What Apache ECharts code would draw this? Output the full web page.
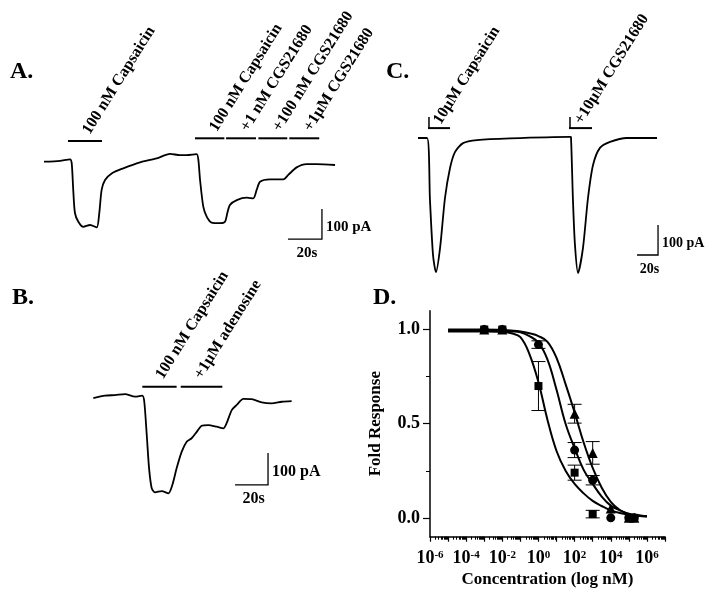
<!DOCTYPE html>
<html><head><meta charset="utf-8">
<script src="https://cdn.jsdelivr.net/npm/echarts@6/dist/echarts.min.js"></script>
<style>html,body{margin:0;padding:0;background:#fff}#c{width:720px;height:592px}</style>
</head><body><div id="c"></div>
<script>
// ---------- Panel A (time s, current pA) ----------
const traceA = [[0,1],[9.4,4],[15.3,9],[16.3,-4],[17.2,-93],[18.2,-170],[20.2,-199],[23.1,-216],[27.1,-210],[31,-218],[32.5,-171],[33.9,-93],[35.9,-60],[39.8,-38],[46.6,-21],[56.5,-1],[66.3,12],[74.1,27],[80,23],[83.9,23],[89.8,26],[90.8,7],[91.8,-60],[93.7,-149],[95.7,-182],[98.6,-202],[103.5,-204],[106.5,-199],[107.8,-171],[109.4,-143],[113.4,-127],[119.2,-119],[123.1,-121],[125.1,-93],[127.1,-66],[132.9,-58],[140.8,-58],[143.7,-43],[148.6,-18],[154.5,-7],[160.4,-7],[171.2,-10]];
const barsA = [[14.1,34.1,70],[88.8,106.1,79],[107.1,124.7,79],[126.1,143.1,79],[144.3,161.9,79]];
const labelsA = ['100 nM Capsaicin','100 nM Capsaicin','+1 nM CGS21680','+100 nM CGS21680','+1\u00b5M CGS21680'];
const scaleA = [143.5,163.5,-257,-157];

// ---------- Panel B ----------
const traceB = [[0,-7],[7.1,1],[13.2,3],[19.2,6],[25.3,-2],[29.7,1],[30.9,-18],[32.4,-122],[33.8,-226],[35.4,-288],[37.4,-301],[41.5,-297],[45.5,-304],[47.9,-278],[50.5,-226],[53.6,-174],[56.6,-143],[59.6,-132],[62.7,-112],[65.7,-93],[69.7,-91],[74.8,-96],[78.8,-101],[80.8,-85],[83.9,-44],[86.9,-28],[90.9,-9],[96,-10],[102.1,-20],[108.1,-23],[114.2,-18],[120.2,-16]];
const barsB = [[29.7,50.5,29],[53.0,78.2,29]];
const labelsB = ['100 nM Capsaicin','+1\u00b5M adenosine'];
const scaleB = [85.9,105.9,-278,-178];

// ---------- Panel C ----------
const traceC = [[0,0],[8.6,0],[11.4,-207],[14.3,-390],[17.1,-447],[21,-367],[25.7,-200],[30.5,-100],[35.2,-47],[42.9,-17],[56.2,-7],[87.6,-1],[144.8,4],[145.7,3],[147.6,-210],[149.5,-357],[152.4,-450],[157.1,-367],[161.9,-200],[166.7,-90],[173.3,-33],[182.9,-13],[199,0],[227.6,0]];
const barsC = [[9.5,30.5,33],[143.8,165.7,33]];
const labelsC = ['10\u00b5M Capsaicin','+10\u00b5M CGS21680'];
const scaleC = [208.6,228.6,-390,-290];

// ---------- Panel D (log10 nM, fold response) ----------
const squares   = [[-3,1.0,0],[-2,1.0,0],[0,0.70,0.13],[2,0.24,0.04],[3,0.02,0.02],[5,0,0],[5.3,0,0]];
const circles   = [[-3,1.0,0],[-2,1.0,0],[0,0.92,0.02],[2,0.36,0.04],[3,0.20,0.025],[4,0,0],[5,0,0],[5.3,0,0]];
const triangles = [[-3,1.0,0],[-2,1.0,0],[2,0.553,0.05],[3,0.345,0.06],[4,0.05,0],[5,0,0],[5.3,0,0]];
const curveX     = [-5,-4,-3,-2,-1.5,-1,-0.5,0,0.5,1,1.5,2,2.5,3,3.5,4,4.5,5,5.5,6];
const curveSq    = [0.99,0.99,0.99,0.988,0.98,0.96,0.87,0.72,0.52,0.355,0.25,0.18,0.13,0.09,0.063,0.04,0.026,0.017,0.011,0.007];
const curveCi    = [0.995,0.995,0.995,0.993,0.99,0.985,0.965,0.93,0.84,0.68,0.50,0.37,0.255,0.18,0.113,0.065,0.04,0.022,0.014,0.009];
const curveTr    = [1.0,1.0,1.0,0.998,0.995,0.99,0.98,0.965,0.935,0.85,0.71,0.56,0.40,0.265,0.16,0.085,0.042,0.02,0.012,0.008];
const majorX = [-6,-5,-4,-3,-2,-1,0,1,2,3,4,5,6,7];
const labelX = [-6,-4,-2,0,2,4,6];
const majorY = [0,0.5,1.0];
const minorY = [0.25,0.75];

const FONT = '"Liberation Serif","Times New Roman",serif';
const ANG = 58 * Math.PI / 180;
const minorX = [];
for (let d = -6; d < 7; d++) for (let k = 2; k <= 9; k++) minorX.push(d + Math.log10(k));

function traceSeries(gi, data) {
  return {type:'line', xAxisIndex:gi, yAxisIndex:gi, data, symbol:'none', smooth:0.25, clip:false, silent:true,
    lineStyle:{color:'#000', width:1.8}};
}
function barSeries(gi, bars, labels, off, fs, tick) {
  return {type:'custom', xAxisIndex:gi, yAxisIndex:gi, data:bars, silent:true, clip:false, encode:{x:[0,1], y:2},
    renderItem:(params, api) => {
      const p0 = api.coord([api.value(0), api.value(2)]);
      const p1 = api.coord([api.value(1), api.value(2)]);
      const ch = [
        {type:'line', shape:{x1:p0[0], y1:p0[1], x2:p1[0], y2:p1[1]}, style:{stroke:'#000', lineWidth:2}},
        {type:'text', x:p0[0]+off[0], y:p0[1]+off[1], rotation:ANG,
          style:{text:labels[params.dataIndex], font:'bold '+fs+'px '+FONT, fill:'#000', align:'left', verticalAlign:'bottom'}}
      ];
      if (tick) ch.push({type:'line', shape:{x1:p0[0]+1, y1:p0[1], x2:p0[0]+1, y2:p0[1]-tick}, style:{stroke:'#000', lineWidth:1.5}});
      return {type:'group', children:ch};
    }};
}
function scaleSeries(gi, sb, fs) {
  return {type:'custom', xAxisIndex:gi, yAxisIndex:gi, data:[sb], silent:true, clip:false, encode:{x:[0,1], y:[2,3]},
    renderItem:(params, api) => {
      const bl = api.coord([api.value(0), api.value(2)]);
      const br = api.coord([api.value(1), api.value(2)]);
      const tr = api.coord([api.value(1), api.value(3)]);
      const f = 'bold '+fs+'px '+FONT;
      return {type:'group', children:[
        {type:'polyline', shape:{points:[bl, br, tr]}, style:{stroke:'#000', lineWidth:1.3, fill:null}},
        {type:'text', x:br[0]+4, y:(br[1]+tr[1])/2+3, style:{text:'100 pA', font:f, fill:'#000', align:'left', verticalAlign:'middle'}},
        {type:'text', x:(bl[0]+br[0])/2+2, y:br[1]+14, style:{text:'20s', font:f, fill:'#000', align:'center', verticalAlign:'middle'}}
      ]};
    }};
}
function errSeries(data) {
  return {type:'custom', xAxisIndex:3, yAxisIndex:3, data, silent:true, encode:{x:0, y:1},
    renderItem:(params, api) => {
      const x = api.value(0), y = api.value(1), e = api.value(2);
      if (!e) return null;
      const t = api.coord([x, y+e]), b = api.coord([x, y-e]);
      const w = 7, st = {stroke:'#000', lineWidth:1};
      return {type:'group', children:[
        {type:'line', shape:{x1:t[0], y1:t[1], x2:b[0], y2:b[1]}, style:st},
        {type:'line', shape:{x1:t[0]-w, y1:t[1], x2:t[0]+w, y2:t[1]}, style:st},
        {type:'line', shape:{x1:b[0]-w, y1:b[1], x2:b[0]+w, y2:b[1]}, style:st}
      ]};
    }};
}
function curveSeries(vals) {
  return {type:'line', xAxisIndex:3, yAxisIndex:3, data:curveX.map((x,i)=>[x, vals[i]]), symbol:'none', smooth:0.4, silent:true,
    lineStyle:{color:'#000', width:2}};
}
function pointSeries(data, symbol, size) {
  return {type:'scatter', xAxisIndex:3, yAxisIndex:3, data:data.map(d=>[d[0], d[1]]), symbol, symbolSize:size, silent:true,
    itemStyle:{color:'#000', opacity:1}, z:5};
}

const bold = (s) => ({fontFamily:FONT, fontWeight:'bold', fontSize:s, color:'#000'});
const hidden = (gi, min, max) => ({gridIndex:gi, type:'value', min, max, show:false});

const option = {
  animation:false,
  backgroundColor:'#fff',
  grid:[
    {left:44, top:132, width:306, height:120, containLabel:false, outerBoundsMode:'none'},
    {left:93.3, top:380, width:214.5, height:128, containLabel:false, outerBoundsMode:'none'},
    {left:418, top:108, width:252, height:180, containLabel:false, outerBoundsMode:'none'},
    {left:430, top:310.7, width:235, height:226, containLabel:false, outerBoundsMode:'none'}
  ],
  xAxis:[
    hidden(0,0,180), hidden(1,0,130), hidden(2,0,240),
    {gridIndex:3, type:'value', min:-6, max:7, position:'bottom',
      axisLine:{show:true, onZero:false, lineStyle:{color:'#000', width:1.5}},
      axisTick:{show:true, inside:false, length:5, customValues:majorX, lineStyle:{color:'#000', width:1.2}},
      axisLabel:{show:true, customValues:labelX, margin:13, formatter:(v)=>'{b|10}{s|'+v+'}',
        rich:{b:bold(18), s:Object.assign(bold(11), {verticalAlign:'top'})}},
      splitLine:{show:false},
      name:'Concentration (log nM)', nameLocation:'middle', nameGap:34, nameMoveOverlap:false,
      nameTextStyle:bold(17)},
    {gridIndex:3, type:'value', min:-6, max:7, position:'bottom',
      axisLine:{show:false, onZero:false},
      axisTick:{show:true, inside:false, length:3, customValues:minorX, lineStyle:{color:'#000', width:1}},
      axisLabel:{show:false}, splitLine:{show:false}}
  ],
  yAxis:[
    hidden(0,-300,100), hidden(1,-350,50), hidden(2,-500,100),
    {gridIndex:3, type:'value', min:-0.1, max:1.1, position:'left',
      axisLine:{show:true, onZero:false, lineStyle:{color:'#000', width:1.5}},
      axisTick:{show:true, inside:false, length:7, customValues:majorY, lineStyle:{color:'#000', width:1.2}},
      axisLabel:{show:true, customValues:majorY, margin:10, formatter:(v)=>v.toFixed(1), ...bold(18)},
      splitLine:{show:false},
      name:'Fold Response', nameLocation:'middle', nameGap:46, nameRotate:90, nameMoveOverlap:false,
      nameTextStyle:bold(17)},
    {gridIndex:3, type:'value', min:-0.1, max:1.1, position:'left',
      axisLine:{show:false, onZero:false},
      axisTick:{show:true, inside:false, length:4, customValues:minorY, lineStyle:{color:'#000', width:1}},
      axisLabel:{show:false}, splitLine:{show:false}}
  ],
  graphic:[
    {type:'text', left:10, top:60, style:{text:'A.', font:'bold 24px '+FONT, fill:'#000'}},
    {type:'text', left:12, top:286, style:{text:'B.', font:'bold 24px '+FONT, fill:'#000'}},
    {type:'text', left:386, top:60, style:{text:'C.', font:'bold 24px '+FONT, fill:'#000'}},
    {type:'text', left:373, top:286, style:{text:'D.', font:'bold 24px '+FONT, fill:'#000'}}
  ],
  series:[
    traceSeries(0, traceA), barSeries(0, barsA, labelsA, [25,-4], 16, 0), scaleSeries(0, scaleA, 15),
    traceSeries(1, traceB), barSeries(1, barsB, labelsB, [24,-5], 16, 0), scaleSeries(1, scaleB, 16),
    traceSeries(2, traceC), barSeries(2, barsC, labelsC, [16,-1], 16, 11), scaleSeries(2, scaleC, 14),
    curveSeries(curveSq), curveSeries(curveCi), curveSeries(curveTr),
    errSeries(squares), errSeries(circles), errSeries(triangles),
    pointSeries(squares, 'rect', 8), pointSeries(circles, 'circle', 9), pointSeries(triangles, 'triangle', 10)
  ]
};
const chart = echarts.init(document.getElementById('c'), null, {renderer:'canvas', width:720, height:592});
chart.setOption(option);
</script></body></html>
